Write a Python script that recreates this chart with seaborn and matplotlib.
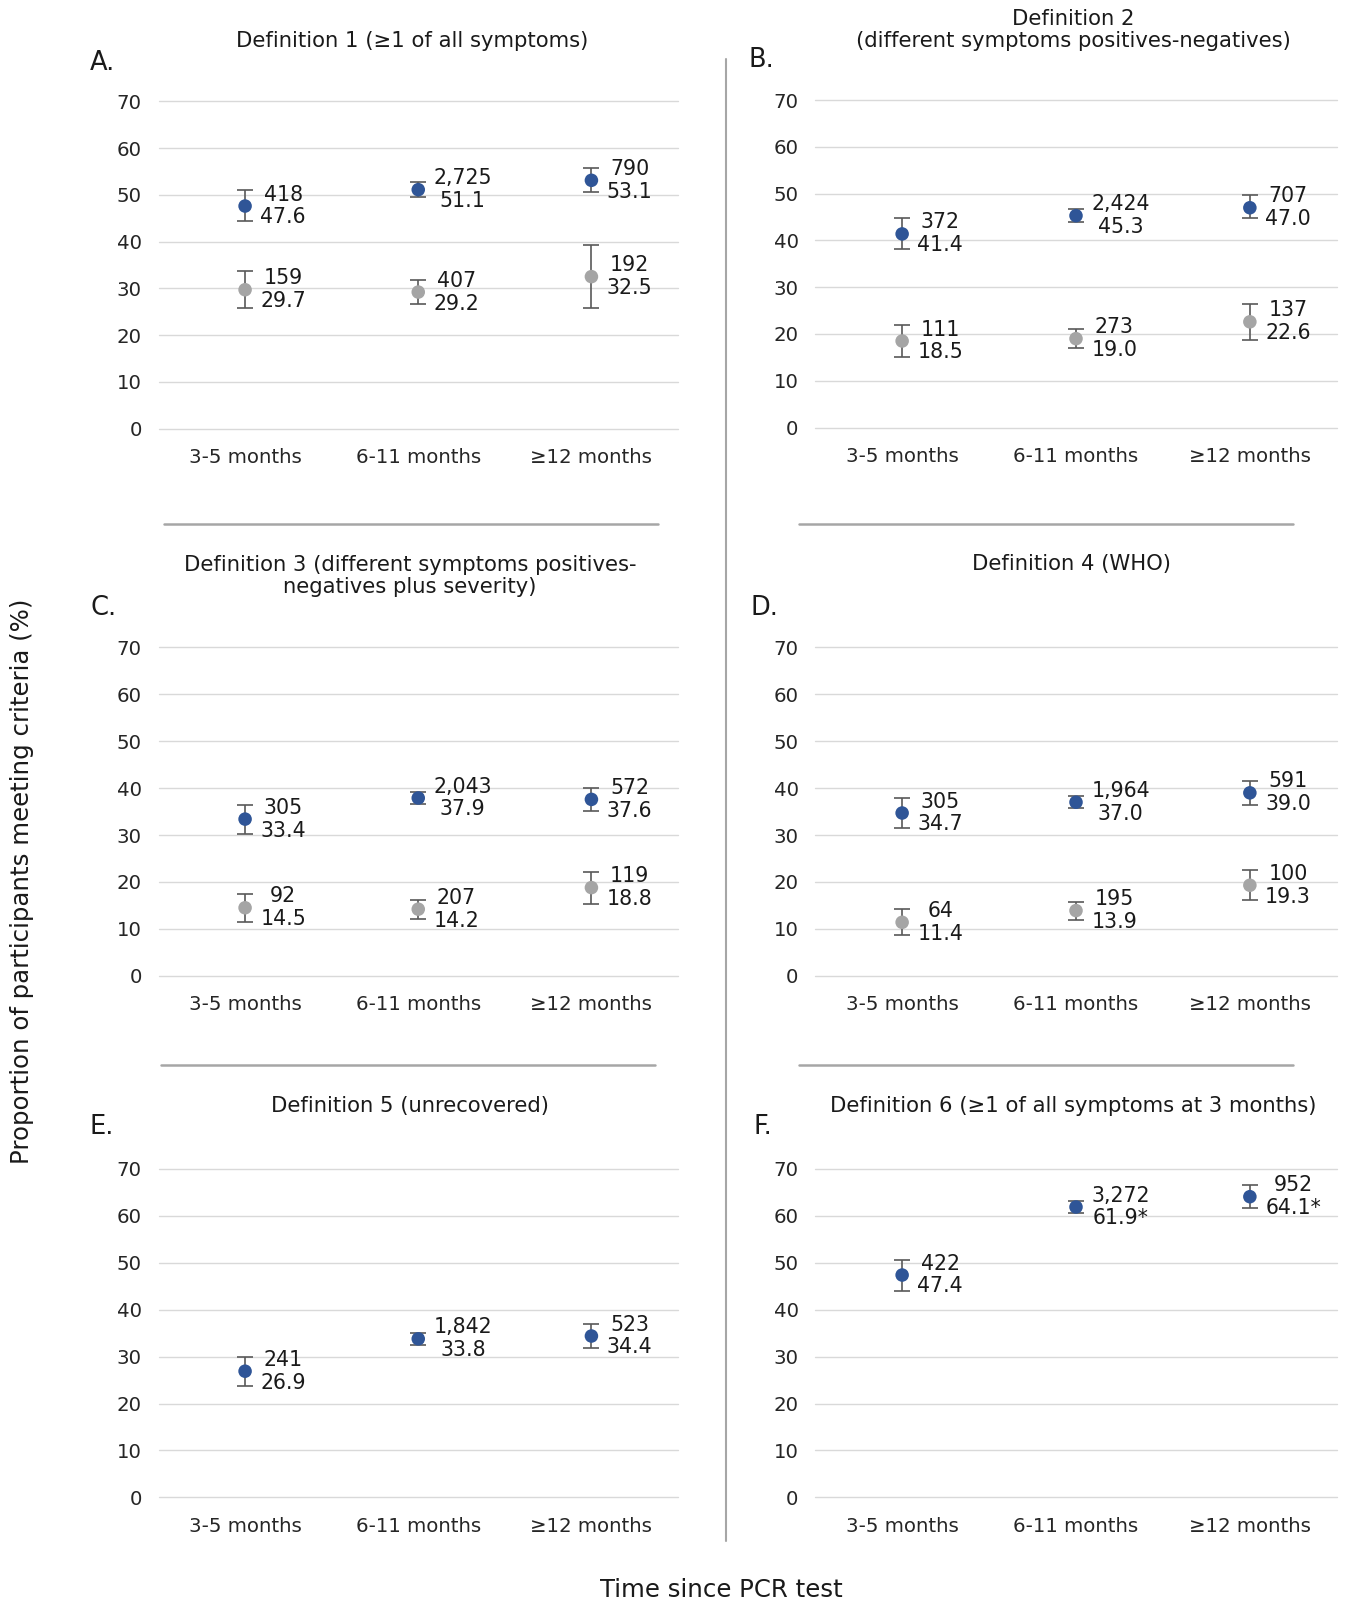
import matplotlib
matplotlib.use("Agg")
import matplotlib.pyplot as plt
import seaborn as sns
import pandas as pd
from matplotlib.lines import Line2D

# ---------------- data ----------------
periods = ["3-5 months", "6-11 months", "≥12 months"]

def1_pos = [47.6, 51.1, 53.1]; def1_pos_n = [418, 2725, 790]
def1_pos_lo = [44.3, 49.5, 50.5]; def1_pos_hi = [51.1, 52.7, 55.7]
def1_neg = [29.7, 29.2, 32.5]; def1_neg_n = [159, 407, 192]
def1_neg_lo = [25.7, 26.7, 25.8]; def1_neg_hi = [33.7, 31.7, 39.2]

def2_pos = [41.4, 45.3, 47.0]; def2_pos_n = [372, 2424, 707]
def2_pos_lo = [38.2, 43.9, 44.7]; def2_pos_hi = [44.9, 46.7, 49.8]
def2_neg = [18.5, 19.0, 22.6]; def2_neg_n = [111, 273, 137]
def2_neg_lo = [15.1, 17.0, 18.8]; def2_neg_hi = [21.9, 21.0, 26.4]

def3_pos = [33.4, 37.9, 37.6]; def3_pos_n = [305, 2043, 572]
def3_pos_lo = [30.3, 36.6, 35.1]; def3_pos_hi = [36.5, 39.2, 40.1]
def3_neg = [14.5, 14.2, 18.8]; def3_neg_n = [92, 207, 119]
def3_neg_lo = [11.5, 12.2, 15.4]; def3_neg_hi = [17.5, 16.2, 22.2]

def4_pos = [34.7, 37.0, 39.0]; def4_pos_n = [305, 1964, 591]
def4_pos_lo = [31.5, 35.7, 36.5]; def4_pos_hi = [37.9, 38.3, 41.5]
def4_neg = [11.4, 13.9, 19.3]; def4_neg_n = [64, 195, 100]
def4_neg_lo = [8.6, 12.0, 16.1]; def4_neg_hi = [14.2, 15.8, 22.5]

def5_pos = [26.9, 33.8, 34.4]; def5_pos_n = [241, 1842, 523]
def5_pos_lo = [23.8, 32.5, 31.9]; def5_pos_hi = [30.0, 35.1, 36.9]

def6_pos = [47.4, 61.9, 64.1]; def6_pos_n = [422, 3272, 952]
def6_pos_lo = [44.1, 60.7, 61.6]; def6_pos_hi = [50.7, 63.1, 66.6]
def6_pos_mark = ["", "*", "*"]

titles = [
    "Definition 1 (≥1 of all symptoms)",
    "Definition 2\n(different symptoms positives-negatives)",
    "Definition 3 (different symptoms positives-\nnegatives plus severity)",
    "Definition 4 (WHO)",
    "Definition 5 (unrecovered)",
    "Definition 6 (≥1 of all symptoms at 3 months)",
]
letters = ["A.", "B.", "C.", "D.", "E.", "F."]
yticks = [0, 10, 20, 30, 40, 50, 60, 70]

# ---------------- table ----------------
rows = []
def add(panel, group, vals, ns, los, his, marks=None):
    for i, p in enumerate(periods):
        rows.append(dict(panel=panel, group=group, period=p, value=vals[i],
                         n=ns[i], lo=los[i], hi=his[i],
                         mark=(marks[i] if marks else "")))

add(0, "pos", def1_pos, def1_pos_n, def1_pos_lo, def1_pos_hi)
add(0, "neg", def1_neg, def1_neg_n, def1_neg_lo, def1_neg_hi)
add(1, "pos", def2_pos, def2_pos_n, def2_pos_lo, def2_pos_hi)
add(1, "neg", def2_neg, def2_neg_n, def2_neg_lo, def2_neg_hi)
add(2, "pos", def3_pos, def3_pos_n, def3_pos_lo, def3_pos_hi)
add(2, "neg", def3_neg, def3_neg_n, def3_neg_lo, def3_neg_hi)
add(3, "pos", def4_pos, def4_pos_n, def4_pos_lo, def4_pos_hi)
add(3, "neg", def4_neg, def4_neg_n, def4_neg_lo, def4_neg_hi)
add(4, "pos", def5_pos, def5_pos_n, def5_pos_lo, def5_pos_hi)
add(5, "pos", def6_pos, def6_pos_n, def6_pos_lo, def6_pos_hi, def6_pos_mark)
df = pd.DataFrame(rows)

# ---------------- style ----------------
sns.set_theme(style="white")
plt.rcParams["font.family"] = ["DejaVu Sans"]

BLUE = "#2F5597"
GREY = "#A5A5A5"
ERR = "#595959"
GRID = "#D9D9D9"
SEP = "#A6A6A6"
TXT = "#1a1a1a"

W, H = 1346, 1609
fig = plt.figure(figsize=(W / 100, H / 100), dpi=100)

def fx(px):
    return px / W

def fy(py):
    return 1 - py / H

# axes boxes in pixel coords: left, right, top(70), bottom(0)
boxes = [
    (158.5, 678.0, 101.3, 428.6),
    (815.2, 1336.8, 100.2, 427.5),
    (158.5, 678.0, 647.4, 975.8),
    (815.2, 1336.8, 647.4, 975.8),
    (158.5, 678.0, 1169.0, 1497.4),
    (815.2, 1336.8, 1169.0, 1497.4),
]
title_pos = [(412, 40.9), (1073, 30.2), (410, 575.8), (1071, 563.6), (410, 1105.6), (1073, 1105.6)]
letter_pos = [(90, 63.4), (748.7, 60.3), (90, 607.5), (750.7, 607.5), (90, 1127), (753.8, 1127)]

for k in range(6):
    l, r, t, b = boxes[k]
    ax = fig.add_axes([fx(l), fy(b), fx(r) - fx(l), (b - t) / H])
    sub = df[df.panel == k]
    # error bars
    ax.errorbar(sub["period"], sub["value"],
                yerr=[sub["value"] - sub["lo"], sub["hi"] - sub["value"]],
                fmt="none", ecolor=ERR, elinewidth=1.2, capsize=5.5,
                capthick=1.2, zorder=2)
    sns.scatterplot(data=sub, x="period", y="value", hue="group",
                    hue_order=["pos", "neg"], palette={"pos": BLUE, "neg": GREY},
                    s=95, linewidth=0, legend=False, ax=ax, zorder=3)
    for _, row in sub.iterrows():
        i = periods.index(row["period"])
        ax.annotate(f"{row['n']:,}\n{row['value']:.1f}{row['mark']}",
                    xy=(i, row["value"]), xytext=(11, 0),
                    textcoords="offset points", ha="left", va="center",
                    multialignment="center", fontsize=14.8, color=TXT,
                    linespacing=1.18, zorder=4)
    ax.set_xlim(-0.5, 2.5)
    ax.set_ylim(0, 70)
    ax.set_yticks(yticks)
    ax.set_xlabel("")
    ax.set_ylabel("")
    for s in ax.spines.values():
        s.set_visible(False)
    ax.grid(axis="y", color=GRID, linewidth=1.0)
    ax.grid(axis="x", visible=False)
    for gl in ax.get_ygridlines():
        gl.set_clip_on(False)
    ax.tick_params(axis="y", length=0, pad=12, labelsize=14.2, labelcolor="#262626")
    ax.tick_params(axis="x", length=0, pad=14, labelsize=14.2, labelcolor="#262626")
    ax.set_facecolor("none")

    tx, ty = title_pos[k]
    fig.text(fx(tx), fy(ty), titles[k], ha="center", va="center",
             fontsize=15.2, color=TXT, linespacing=1.15)
    lx, ly = letter_pos[k]
    fig.text(fx(lx), fy(ly), letters[k], ha="left", va="center",
             fontsize=18.5, color=TXT)

# separators
for (x0, x1, y) in [(163.6, 657.7, 523.7), (798.8, 1292.8, 523.7),
                    (160.6, 654.6, 1064.7), (798.8, 1292.8, 1064.7)]:
    fig.add_artist(Line2D([fx(x0), fx(x1)], [fy(y), fy(y)], color=SEP, linewidth=1.8))
fig.add_artist(Line2D([fx(726.2), fx(726.2)], [fy(59.3), fy(1541.4)], color=SEP, linewidth=1.5))

fig.text(fx(22.5), fy(881.7), "Proportion of participants meeting criteria (%)",
         rotation=90, ha="center", va="center", fontsize=17.6, color=TXT)
fig.text(fx(721), fy(1590), "Time since PCR test", ha="center", va="center",
         fontsize=17.6, color=TXT)

fig.savefig("out.png", dpi=100, facecolor="white")
